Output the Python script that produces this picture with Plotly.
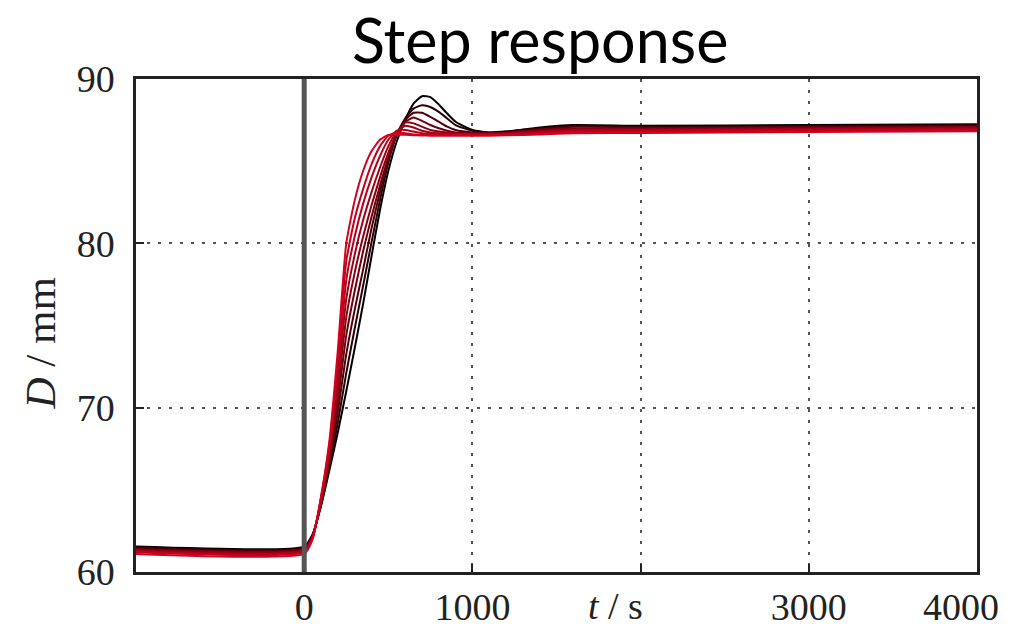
import plotly.graph_objects as go

# ---- data ----
t = [-1000, 0, 50, 100, 150, 200, 250, 300, 350, 400, 450, 500, 550, 600, 650,
     700, 750, 800, 850, 900, 1000, 1100, 1200, 1400, 1600, 2000, 3000, 4000]

d0 = [61.55, 61.55, 62.3, 64.0, 66.2, 68.5, 71.0, 73.6, 76.3, 79.2, 82.0, 84.4, 86.2, 87.5, 88.5,
      88.95, 88.9, 88.45, 87.9, 87.4, 86.9, 86.75, 86.8, 87.05, 87.2, 87.15, 87.2, 87.25]
d1 = [61.5, 61.5, 62.25, 64.1, 66.4, 69.1, 72.1, 74.8, 77.4, 80.05, 82.6, 84.9, 86.6, 87.6, 88.2,
      88.4, 88.3, 88.0, 87.6, 87.2, 86.85, 86.75, 86.8, 87.0, 87.15, 87.1, 87.15, 87.2]
d2 = [61.45, 61.45, 62.2, 64.15, 66.65, 69.75, 73.25, 75.95, 78.4, 80.9, 83.1, 85.1, 86.6, 87.5, 87.95,
      87.95, 87.7, 87.4, 87.1, 86.9, 86.75, 86.7, 86.75, 86.95, 87.1, 87.05, 87.1, 87.15]
d3 = [61.4, 61.4, 62.2, 64.2, 66.9, 70.4, 74.4, 77.1, 79.5, 81.6, 83.5, 85.2, 86.6, 87.4, 87.65,
      87.45, 87.2, 87.0, 86.85, 86.75, 86.7, 86.7, 86.72, 86.9, 87.0, 87.0, 87.05, 87.1]
d4 = [61.35, 61.35, 62.15, 64.3, 67.1, 71.0, 75.5, 78.2, 80.4, 82.3, 84.0, 85.5, 86.7, 87.35, 87.3,
      87.1, 86.9, 86.8, 86.75, 86.7, 86.68, 86.68, 86.7, 86.85, 86.95, 86.95, 87.0, 87.05]
d5 = [61.3, 61.3, 62.1, 64.35, 67.3, 71.6, 76.6, 79.3, 81.4, 83.1, 84.6, 85.9, 86.8, 87.15, 87.05,
      86.85, 86.75, 86.7, 86.68, 86.66, 86.65, 86.65, 86.68, 86.8, 86.9, 86.9, 86.95, 87.0]
d6 = [61.25, 61.25, 62.1, 64.45, 67.55, 72.25, 77.75, 80.4, 82.4, 84.0, 85.3, 86.3, 86.85, 86.9, 86.8,
      86.7, 86.66, 86.64, 86.63, 86.63, 86.62, 86.62, 86.65, 86.75, 86.85, 86.85, 86.9, 86.95]
d7 = [61.2, 61.2, 62.05, 64.5, 67.8, 72.9, 78.9, 81.5, 83.3, 84.8, 85.9, 86.55, 86.75, 86.7, 86.63,
      86.6, 86.6, 86.6, 86.6, 86.6, 86.6, 86.6, 86.62, 86.7, 86.78, 86.8, 86.85, 86.9]
d8 = [61.1, 61.1, 62.0, 64.6, 68.0, 73.5, 80.0, 82.6, 84.4, 85.6, 86.3, 86.6, 86.63, 86.6, 86.58,
      86.56, 86.55, 86.55, 86.55, 86.55, 86.55, 86.55, 86.57, 86.63, 86.7, 86.72, 86.78, 86.82]

series = [d0, d1, d2, d3, d4, d5, d6, d7, d8]
colors = ["#000000", "#2a0005", "#4e000a", "#6e000f", "#8a0013", "#a00017",
          "#b4001a", "#c4001d", "#d2021f"]

step_time = 0
x_tickvals = [0, 1000, 2000, 3000, 4000]
x_ticktext = ["0", "1000", "", "3000", ""]
x_last_value = 4000
x_last_text = "4000"
x_label_value = 2000
y_tickvals = [60, 70, 80, 90]
x_range = [-1000, 4000]
y_range = [60, 90]

fig = go.Figure()
for ys, c in zip(series, colors):
    fig.add_trace(go.Scatter(x=t, y=ys, mode="lines",
                             line=dict(color=c, width=2, shape="spline", smoothing=0.5),
                             showlegend=False, hoverinfo="skip"))

fig.add_shape(type="line", xref="x", yref="paper", x0=step_time, x1=step_time, y0=0, y1=1,
              line=dict(color="#555555", width=5), layer="above")

serif = "Liberation Serif"
axis_common = dict(showline=True, mirror=True, linecolor="#222", linewidth=2.5,
                   ticks="inside", ticklen=8, tickcolor="#222", tickwidth=2,
                   showgrid=True, gridcolor="#555", griddash="3px,8px", gridwidth=1.5,
                   zeroline=False, automargin=False,
                   tickfont=dict(family=serif, size=38, color="#222"))
fig.update_layout(
    width=1004, height=619,
    margin=dict(l=128, r=35, t=71, b=55),
    plot_bgcolor="white", paper_bgcolor="white",
    title=dict(text="Step response", x=0.53, xanchor="center", y=0.946, yanchor="middle",
               font=dict(family="Lato", size=61, color="black")),
    xaxis=dict(range=x_range, tickvals=x_tickvals, ticktext=x_ticktext,
               ticklabelstandoff=0, **axis_common),
    yaxis=dict(range=y_range, tickvals=y_tickvals, ticklabelstandoff=11, **axis_common),
)

fig.add_annotation(text=x_last_text, x=x_last_value, xref="x", y=0, yref="paper",
                   xanchor="right", yanchor="top", yshift=-12, xshift=24, showarrow=False,
                   font=dict(family=serif, size=38, color="#222"))
fig.add_annotation(text="<i>t</i> / s", x=x_label_value, xref="x", y=0, yref="paper",
                   xanchor="center", yanchor="top", yshift=-11, xshift=-25, showarrow=False,
                   font=dict(family=serif, size=38, color="#222"))
fig.add_annotation(text="<i>D</i> / mm", x=0, xref="paper", y=0.5, yref="paper",
                   xanchor="center", yanchor="middle", xshift=-96, yshift=-18, textangle=-90,
                   showarrow=False, font=dict(family=serif, size=43, color="#222"))

fig.write_html("out.html")
